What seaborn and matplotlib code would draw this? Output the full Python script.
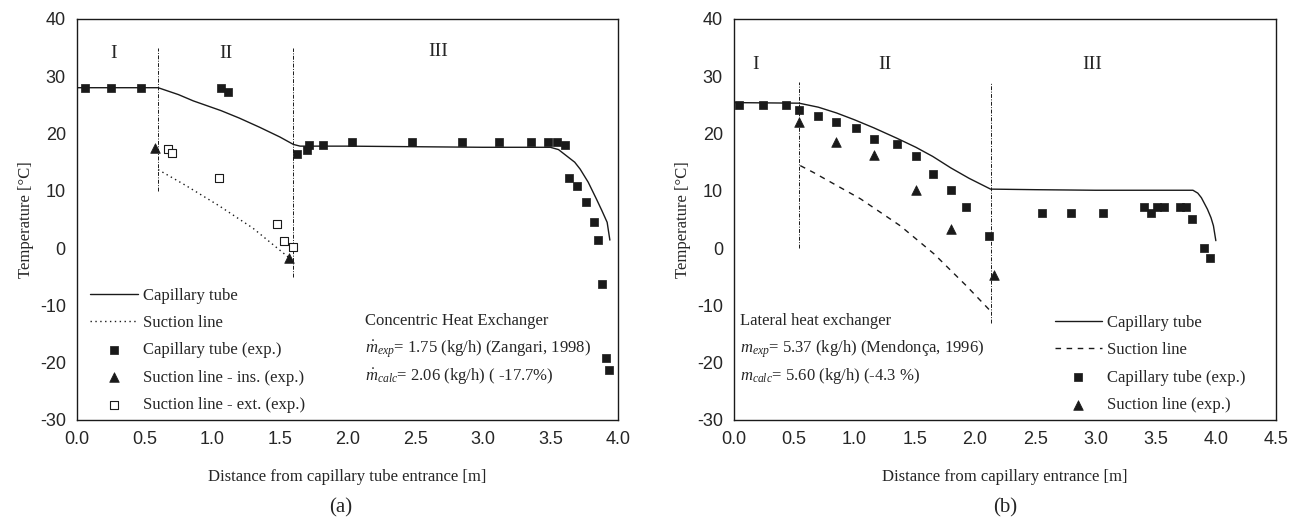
"""Capillary tube / suction line temperature profiles, panels (a) and (b)."""

import numpy as np
import matplotlib
matplotlib.use("Agg")
import matplotlib.pyplot as plt
from matplotlib.ticker import MultipleLocator, FormatStrFormatter
import seaborn as sns

# ---------------- panel (a): concentric heat exchanger ----------------
a_cap_model_x = [0.0, 0.6, 0.75, 0.86, 1.065, 1.2, 1.35, 1.5, 1.6, 1.65, 2.0, 2.5, 3.0, 3.5,
                 3.56, 3.62, 3.68, 3.72, 3.78, 3.84, 3.88, 3.92, 3.94]
a_cap_model_y = [28.0, 28.0, 26.8, 25.7, 24.0, 22.7, 21.1, 19.4, 18.1, 17.8, 17.8, 17.7, 17.6, 17.6,
                 17.2, 16.1, 15.0, 13.8, 11.5, 8.6, 6.6, 4.5, 1.4]
a_suc_model_x = [0.6, 0.8, 1.05, 1.3, 1.6]
a_suc_model_y = [13.7, 11.0, 7.4, 3.5, -2.3]

a_cap_exp_x = [0.06, 0.25, 0.47, 1.065, 1.12, 1.63, 1.70, 1.715, 1.82, 2.03, 2.48, 2.85, 3.12, 3.36,
               3.48, 3.55, 3.61, 3.64, 3.70, 3.76, 3.82, 3.85, 3.88, 3.91, 3.93]
a_cap_exp_y = [27.9, 27.9, 27.9, 28.0, 27.2, 16.5, 17.2, 18.0, 18.0, 18.6, 18.6, 18.6, 18.6, 18.6,
               18.6, 18.6, 18.0, 12.2, 10.8, 8.0, 4.5, 1.5, -6.3, -19.1, -21.3]
a_suc_ins_x = [0.575, 1.57]
a_suc_ins_y = [17.4, -1.8]
a_suc_ext_x = [0.67, 0.70, 1.05, 1.48, 1.53, 1.60]
a_suc_ext_y = [17.3, 16.6, 12.2, 4.2, 1.2, 0.2]

a_zone_x = [0.6, 1.6]
a_zone_top = [35.0, 35.0]
a_zone_bottom = [10.0, -5.0]
a_zone_labels = ["I", "II", "III"]
a_zone_label_x = [0.27, 1.10, 2.67]
a_zone_label_y = [34.0, 34.0, 34.4]

a_notes = ["Concentric Heat Exchanger",
           r"$\dot{m}_{exp}$= 1.75 (kg/h) (Zangari, 1998)",
           r"$\dot{m}_{calc}$= 2.06 (kg/h) ( -17.7%)"]

# ---------------- panel (b): lateral heat exchanger ----------------
b_cap_model_x = [0.0, 0.54, 0.7, 0.85, 1.0, 1.16, 1.35, 1.51, 1.65, 1.80, 1.95, 2.13, 2.5, 3.0,
                 3.81, 3.85, 3.88, 3.93, 3.96, 3.98, 4.0]
b_cap_model_y = [25.4, 25.3, 24.6, 23.6, 22.4, 21.0, 19.2, 17.6, 16.0, 14.0, 12.2, 10.3, 10.2, 10.1,
                 10.1, 9.6, 8.8, 6.8, 5.3, 3.9, 1.3]
b_suc_model_x = [0.55, 0.66, 1.05, 1.38, 1.66, 1.93, 2.13]
b_suc_model_y = [14.4, 13.2, 8.6, 3.9, -1.0, -6.6, -11.0]

b_cap_exp_x = [0.04, 0.24, 0.43, 0.54, 0.70, 0.85, 1.01, 1.16, 1.35, 1.51, 1.65, 1.80, 1.93, 2.12,
               2.56, 2.80, 3.06, 3.40, 3.46, 3.51, 3.57, 3.70, 3.75, 3.80, 3.90, 3.95]
b_cap_exp_y = [25.0, 25.0, 25.0, 24.1, 23.1, 22.0, 21.0, 19.1, 18.1, 16.1, 13.0, 10.1, 7.1, 2.1,
               6.1, 6.1, 6.1, 7.1, 6.1, 7.1, 7.1, 7.1, 7.1, 5.1, 0.1, -1.8]
b_suc_exp_x = [0.54, 0.85, 1.16, 1.51, 1.80, 2.16]
b_suc_exp_y = [22.1, 18.6, 16.2, 10.1, 3.3, -4.7]

b_zone_x = [0.54, 2.13]
b_zone_top = [29.0, 29.0]
b_zone_bottom = [0.0, -13.0]
b_zone_labels = ["I", "II", "III"]
b_zone_label_x = [0.18, 1.25, 2.97]
b_zone_label_y = [32.0, 32.0, 32.0]

b_notes = ["Lateral heat exchanger",
           r"$m_{exp}$= 5.37 (kg/h) (Mendonça, 1996)",
           r"$m_{calc}$= 5.60 (kg/h) (-4.3 %)"]

note_y = [-12.8, -17.6, -22.3]

SERIF = "Liberation Serif"
SANS = "Liberation Sans"


def style_axes(ax, xmax):
    ax.set_xlim(0, xmax)
    ax.set_ylim(-30, 40)
    ax.xaxis.set_major_locator(MultipleLocator(0.5))
    ax.xaxis.set_minor_locator(MultipleLocator(0.25))
    ax.yaxis.set_major_locator(MultipleLocator(10))
    ax.yaxis.set_minor_locator(MultipleLocator(5))
    ax.xaxis.set_major_formatter(FormatStrFormatter("%.1f"))
    ax.tick_params(which="both", direction="out", top=False, right=False, color="k")
    ax.tick_params(which="major", length=5, width=1, labelsize=13, pad=3)
    ax.tick_params(which="minor", length=3, width=1)
    for lab in ax.get_xticklabels() + ax.get_yticklabels():
        lab.set_fontfamily(SANS)
    for sp in ax.spines.values():
        sp.set_visible(True)
        sp.set_color("k")
        sp.set_linewidth(1.0)
    ax.set_ylabel("Temperature [°C]", fontsize=12, family=SERIF, labelpad=4)
    ax.grid(False)


def main():
    sns.set_theme(style="white")
    plt.rcParams["font.family"] = [SERIF, "DejaVu Serif"]
    plt.rcParams["axes.unicode_minus"] = False
    plt.rcParams["mathtext.fontset"] = "custom"
    plt.rcParams["mathtext.rm"] = SERIF
    plt.rcParams["mathtext.it"] = SERIF + ":italic"

    fig = plt.figure(figsize=(12.98, 5.21), dpi=100)
    ax1 = fig.add_axes([0.0593, 0.1939, 0.4168, 0.7697])
    ax2 = fig.add_axes([0.5655, 0.1939, 0.4176, 0.7697])

    # ---- (a)
    sns.lineplot(x=a_cap_model_x, y=a_cap_model_y, ax=ax1, color="k", lw=1.0,
                 estimator=None, sort=False, label="Capillary tube")
    sns.lineplot(x=a_suc_model_x, y=a_suc_model_y, ax=ax1, color="k", lw=1.0,
                 linestyle=(0, (1, 2.5)), estimator=None, sort=False, label="Suction line")
    sns.scatterplot(x=a_cap_exp_x, y=a_cap_exp_y, ax=ax1, marker="s", s=40, color="k",
                    edgecolor="k", linewidth=0.5, label="Capillary tube (exp.)", zorder=3)
    sns.scatterplot(x=a_suc_ins_x, y=a_suc_ins_y, ax=ax1, marker="^", s=48, color="k",
                    edgecolor="k", linewidth=0.5, label="Suction line - ins. (exp.)", zorder=3)
    sns.scatterplot(x=a_suc_ext_x, y=a_suc_ext_y, ax=ax1, marker="s", s=32, color="white",
                    edgecolor="k", linewidth=0.8, label="Suction line - ext. (exp.)", zorder=3)
    ax1.vlines(a_zone_x, a_zone_bottom, a_zone_top, colors="k", lw=0.7,
               linestyles=(0, (4, 1.5, 1, 1.5)))
    for lab, zx, zy in zip(a_zone_labels, a_zone_label_x, a_zone_label_y):
        ax1.text(zx, zy, lab, ha="center", va="center", fontsize=14, family=SERIF)
    for txt, ny in zip(a_notes, note_y):
        ax1.text(2.13, ny, txt, ha="left", va="center", fontsize=12, family=SERIF)
    style_axes(ax1, 4.0)
    ax1.set_xlabel("Distance from capillary tube entrance [m]", fontsize=12, family=SERIF, labelpad=15)
    ax1.legend(loc="upper left", bbox_to_anchor=(0.024, 0.33), frameon=False, fontsize=12,
               borderpad=0, borderaxespad=0, handlelength=2.9, handletextpad=0.3,
               labelspacing=0.68)

    # ---- (b)
    sns.lineplot(x=b_cap_model_x, y=b_cap_model_y, ax=ax2, color="k", lw=1.0,
                 estimator=None, sort=False, label="Capillary tube")
    sns.lineplot(x=b_suc_model_x, y=b_suc_model_y, ax=ax2, color="k", lw=1.0,
                 linestyle=(0, (4, 4)), estimator=None, sort=False, label="Suction line")
    sns.scatterplot(x=b_cap_exp_x, y=b_cap_exp_y, ax=ax2, marker="s", s=40, color="k",
                    edgecolor="k", linewidth=0.5, label="Capillary tube (exp.)", zorder=3)
    sns.scatterplot(x=b_suc_exp_x, y=b_suc_exp_y, ax=ax2, marker="^", s=48, color="k",
                    edgecolor="k", linewidth=0.5, label="Suction line (exp.)", zorder=3)
    ax2.vlines(b_zone_x, b_zone_bottom, b_zone_top, colors="k", lw=0.7,
               linestyles=(0, (4, 1.5, 1, 1.5)))
    for lab, zx, zy in zip(b_zone_labels, b_zone_label_x, b_zone_label_y):
        ax2.text(zx, zy, lab, ha="center", va="center", fontsize=14, family=SERIF)
    for txt, ny in zip(b_notes, note_y):
        ax2.text(0.05, ny, txt, ha="left", va="center", fontsize=12, family=SERIF)
    style_axes(ax2, 4.5)
    ax2.set_xlabel("Distance from capillary entrance [m]", fontsize=12, family=SERIF, labelpad=15)
    ax2.legend(loc="upper left", bbox_to_anchor=(0.592, 0.262), frameon=False, fontsize=12,
               borderpad=0, borderaxespad=0, handlelength=2.8, handletextpad=0.3,
               labelspacing=0.68)

    fig.text(0.2626, 0.025, "(a)", ha="center", va="center", fontsize=15, family=SERIF)
    fig.text(0.7743, 0.025, "(b)", ha="center", va="center", fontsize=15, family=SERIF)

    fig.savefig("out.png", dpi=100, facecolor="white")
    plt.close(fig)


if __name__ == "__main__":
    main()
